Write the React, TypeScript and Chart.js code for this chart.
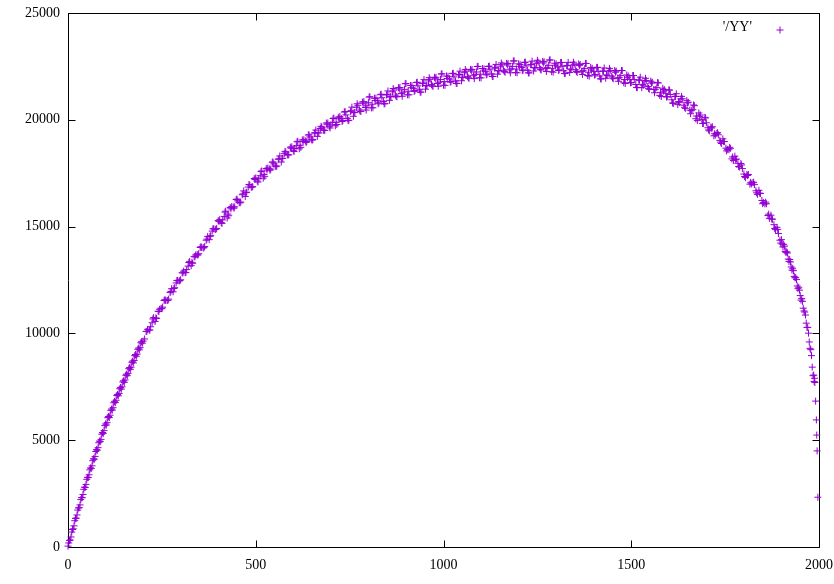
import React, { useEffect, useRef } from "react";
import { Chart, registerables } from "chart.js";

Chart.register(...registerables);

const seriesLabel = "'/YY'";
const xTickValues = [0, 500, 1000, 1500, 2000];
const yTickValues = [0, 5000, 10000, 15000, 20000, 25000];

const rampPoints: number[][] = [
  [0, 40], [4, 300], [8, 470], [12, 820], [16, 990], [20, 1340], [24, 1500], [28, 1830],
  [32, 1970], [36, 2310], [40, 2460], [44, 2800], [48, 2930], [52, 3260], [56, 3380],
  [60, 3700], [64, 3800], [68, 4130], [72, 4240], [76, 4560], [80, 4650], [84, 4960],
  [88, 5040], [92, 5360], [96, 5450], [100, 5760], [104, 5820], [108, 6110], [112, 6170],
  [116, 6460], [120, 6520], [124, 6820], [128, 6870], [132, 7140], [136, 7190], [140, 7470],
  [144, 7500], [148, 7780], [152, 7820], [156, 8090], [160, 8130], [164, 8400], [168, 8420],
  [172, 8700], [176, 8730], [180, 9010], [184, 9030], [188, 9310], [192, 9330], [196, 9610],
  [200, 9640],
];

const rampInterleaved: number[][] = [
  [2, 190], [6, 330], [10, 700], [14, 850], [18, 1230], [22, 1350], [26, 1730], [30, 1840],
  [34, 2220], [38, 2310], [42, 2700], [46, 2790], [50, 3170], [54, 3250], [58, 3610],
  [62, 3680], [66, 4040], [70, 4110], [74, 4470], [78, 4530], [82, 4880], [86, 4930],
  [90, 5280], [94, 5320], [98, 5680], [102, 5710], [106, 6050], [110, 6060], [114, 6400],
  [118, 6410], [122, 6750], [126, 6760], [130, 7090], [134, 7080], [138, 7410], [142, 7390],
  [146, 7730], [150, 7710], [154, 8040], [158, 8020], [162, 8350], [166, 8320], [170, 8650],
  [174, 8620], [178, 8960], [182, 8930], [186, 9260], [190, 9230], [194, 9560], [198, 9540],
];

const risePoints: number[][] = [
  [208, 10091], [216, 10152], [224, 10498], [232, 10560], [240, 11040], [248, 11175],
  [256, 11538], [264, 11537], [272, 11911], [280, 11945], [288, 12363], [296, 12451],
  [304, 12839], [312, 12852], [320, 13150], [328, 13172], [336, 13604], [344, 13691],
  [352, 14022], [360, 14005], [368, 14363], [376, 14389], [384, 14791], [392, 14863],
  [400, 15280], [408, 15188], [416, 15476], [424, 15404], [432, 15892], [440, 15920],
  [448, 16268], [456, 16130], [464, 16490], [472, 16410], [480, 16850], [488, 16850],
  [496, 17250], [504, 17134], [512, 17382], [520, 17270], [528, 17718], [536, 17706],
  [544, 18014], [552, 17838], [560, 18150], [568, 18022], [576, 18414], [584, 18366],
  [592, 18718], [600, 18570], [608, 18786], [616, 18642], [624, 19058], [632, 19014],
  [640, 19290], [648, 19086], [656, 19376], [664, 19224], [672, 19592], [680, 19520],
  [688, 19848], [696, 19676], [704, 19880], [712, 19720], [720, 20120],
];

const riseInterleaved: number[][] = [
  [204, 9738], [212, 10189], [220, 10310], [228, 10739], [236, 10695], [244, 11130],
  [252, 11229], [260, 11545], [268, 11604], [276, 12093], [284, 12139], [292, 12482],
  [300, 12510], [308, 12913], [316, 12986], [324, 13371], [332, 13283], [340, 13670],
  [348, 13729], [356, 14021], [364, 14064], [372, 14541], [380, 14575], [388, 14902],
  [396, 14914], [404, 15324], [412, 15312], [420, 15720], [428, 15508], [436, 15936],
  [444, 15924], [452, 16209], [460, 16150], [468, 16670], [476, 16610], [484, 16950],
  [492, 16870], [500, 17282], [508, 17238], [516, 17606], [524, 17354], [532, 17742],
  [540, 17690], [548, 17936], [556, 17834], [564, 18306], [572, 18198], [580, 18490],
  [588, 18362], [596, 18734], [604, 18658], [612, 18994], [620, 18710], [628, 19066],
  [636, 18982], [644, 19198], [652, 19071], [660, 19520], [668, 19388], [676, 19656],
  [684, 19504], [692, 19852], [700, 19758], [708, 20080], [716, 19780],
];

const riseThird: number[][] = [
  [210, 10095], [218, 10156], [226, 10678], [234, 10725], [242, 11025], [250, 11157],
  [258, 11579], [266, 11548], [274, 11965], [282, 12102], [290, 12475], [298, 12473],
  [306, 12831], [314, 12844], [322, 13320], [330, 13325], [338, 13577], [346, 13665],
  [354, 14059], [362, 14012], [370, 14415], [378, 14542], [386, 14899], [394, 14881],
  [402, 15242], [410, 15150], [418, 15678], [426, 15586], [434, 15834], [442, 15862],
  [450, 16288], [458, 16110], [466, 16530], [474, 16590], [482, 16970], [490, 16850],
  [498, 17206], [506, 17086], [514, 17574], [522, 17442], [530, 17650], [538, 17638],
  [546, 18025], [554, 17806], [562, 18178], [570, 18190], [578, 18522], [586, 18354],
  [594, 18666], [602, 18514], [610, 18970], [618, 18806], [626, 18982], [634, 18938],
  [642, 19294], [650, 19048], [658, 19398], [666, 19386], [674, 19694], [682, 19502],
  [690, 19790], [698, 19617], [706, 20060], [714, 19880],
];

const plateauPoints: number[][] = [
  [728, 20055], [736, 20360], [744, 20065], [752, 20393], [760, 20165], [768, 20587],
  [776, 20459], [784, 20831], [792, 20578], [800, 20800], [808, 20556], [816, 21012],
  [824, 20893], [832, 21174], [840, 20855], [848, 21161], [856, 20911], [864, 21309],
  [872, 21157], [880, 21505], [888, 21228], [896, 21426], [904, 21170], [912, 21610],
  [920, 21475], [928, 21740], [936, 21405], [944, 21695], [952, 21434], [960, 21819],
  [968, 21654], [976, 21989], [984, 21700], [992, 21885], [1000, 21620], [1008, 22050],
  [1016, 21906], [1024, 22161], [1032, 21817], [1040, 22097], [1048, 21827], [1056, 22205],
  [1064, 22033], [1072, 22360], [1080, 22062], [1088, 22239], [1096, 21966], [1104, 22402],
  [1112, 22250], [1120, 22497], [1128, 22145], [1136, 22417], [1144, 22139], [1152, 22511],
  [1160, 22327], [1168, 22643], [1176, 22334], [1184, 22500], [1192, 22216], [1200, 22620],
  [1208, 22453], [1216, 22686], [1224, 22319], [1232, 22577], [1240, 22285], [1248, 22643],
  [1256, 22440], [1264, 22735], [1272, 22405], [1280, 22550], [1288, 22250], [1296, 22650],
  [1304, 22469], [1312, 22681], [1320, 22293], [1328, 22530], [1336, 22217], [1344, 22555],
  [1352, 22339], [1360, 22617], [1368, 22270], [1376, 22397], [1384, 22075], [1392, 22452],
  [1400, 22255], [1408, 22453], [1416, 22051], [1424, 22273], [1432, 21946], [1440, 22269],
  [1448, 22042], [1456, 22310], [1464, 21951], [1472, 22068], [1480, 21734], [1488, 22100],
  [1496, 21892], [1504, 22076], [1512, 21653], [1520, 21855], [1528, 21507], [1536, 21809],
  [1544, 21561], [1552, 21809], [1560, 21420], [1568, 21506], [1576, 21142], [1584, 21478],
  [1592, 21239], [1600, 21400], [1608, 20937], [1616, 21099], [1624, 20711], [1632, 20973],
  [1640, 20685], [1648, 20897], [1656, 20454], [1664, 20476], [1672, 20048], [1680, 20320],
  [1688, 20017], [1696, 20114],
];

const plateauInterleaved: number[][] = [
  [724, 20160], [732, 19970], [740, 20230], [748, 19979], [756, 20594], [764, 20336],
  [772, 20678], [780, 20390], [788, 20852], [796, 20654], [804, 21078], [812, 20564],
  [820, 21010], [828, 20796], [836, 21032], [844, 20758], [852, 21351], [860, 21070],
  [868, 21388], [876, 21076], [884, 21514], [892, 21292], [900, 21698], [908, 21170],
  [916, 21600], [924, 21370], [932, 21590], [940, 21300], [948, 21880], [956, 21587],
  [964, 21892], [972, 21567], [980, 21992], [988, 21758], [996, 22153], [1004, 21615],
  [1012, 22036], [1020, 21796], [1028, 22007], [1036, 21707], [1044, 22277], [1052, 21976],
  [1060, 22274], [1068, 21942], [1076, 22359], [1084, 22116], [1092, 22503], [1100, 21964],
  [1108, 22384], [1116, 22136], [1124, 22339], [1132, 22031], [1140, 22593], [1148, 22285],
  [1156, 22574], [1164, 22230], [1172, 22636], [1180, 22382], [1188, 22758], [1196, 22198],
  [1204, 22594], [1212, 22332], [1220, 22520], [1228, 22198], [1236, 22746], [1244, 22424],
  [1252, 22697], [1260, 22332], [1268, 22718], [1276, 22442], [1284, 22800], [1292, 22230],
  [1300, 22617], [1308, 22338], [1316, 22505], [1324, 22162], [1332, 22689], [1340, 22346],
  [1348, 22602], [1356, 22223], [1364, 22591], [1372, 22299], [1380, 22636], [1388, 22044],
  [1396, 22411], [1404, 22117], [1412, 22270], [1420, 21912], [1428, 22425], [1436, 22068],
  [1444, 22311], [1452, 21921], [1460, 22278], [1468, 21975], [1476, 22301], [1484, 21697],
  [1492, 22054], [1500, 21747], [1508, 21882], [1516, 21504], [1524, 21996], [1532, 21618],
  [1540, 21840], [1548, 21430], [1556, 21762], [1564, 21428], [1572, 21724], [1580, 21090],
  [1588, 21416], [1596, 21082], [1604, 21186], [1612, 20768], [1620, 21220], [1628, 20802],
  [1636, 20984], [1644, 20536], [1652, 20823], [1660, 20430], [1668, 20662], [1676, 19964],
  [1684, 20226], [1692, 19828],
];

const plateauThird: number[][] = [
  [722, 20050], [730, 19920], [738, 20390], [746, 19960], [754, 20426], [762, 20348],
  [770, 20750], [778, 20402], [786, 20774], [794, 20456], [802, 21064], [810, 20730],
  [818, 20906], [826, 20752], [834, 21198], [842, 20744], [850, 21188], [858, 21088],
  [866, 21466], [874, 21094], [882, 21442], [890, 21100], [898, 21687], [906, 21340],
  [914, 21500], [922, 21330], [930, 21760], [938, 21290], [946, 21720], [954, 21608],
  [962, 21973], [970, 21588], [978, 21923], [986, 21569], [994, 22144], [1002, 21788],
  [1010, 21938], [1018, 21759], [1026, 22179], [1034, 21700], [1042, 22120], [1050, 21999],
  [1058, 22357], [1066, 21965], [1074, 22292], [1082, 21929], [1090, 22496], [1098, 22135],
  [1106, 22288], [1114, 22101], [1122, 22513], [1130, 22026], [1138, 22438], [1146, 22310],
  [1154, 22660], [1162, 22256], [1170, 22572], [1178, 22198], [1186, 22754], [1194, 22377],
  [1202, 22502], [1210, 22300], [1218, 22698], [1226, 22196], [1234, 22594], [1242, 22452],
  [1250, 22787], [1258, 22364], [1266, 22659], [1274, 22264], [1282, 22800], [1290, 22410],
  [1298, 22529], [1306, 22311], [1314, 22688], [1322, 22165], [1330, 22542], [1338, 22379],
  [1346, 22696], [1354, 22259], [1362, 22536], [1370, 22124], [1378, 22641], [1386, 22229],
  [1394, 22327], [1402, 22093], [1410, 22456], [1418, 21919], [1426, 22281], [1434, 22104],
  [1442, 22407], [1450, 21959], [1458, 22227], [1466, 21803], [1474, 22310], [1482, 21886],
  [1490, 21972], [1498, 21727], [1506, 22074], [1514, 21516], [1522, 21858], [1530, 21660],
  [1538, 21942], [1546, 21473], [1554, 21718], [1562, 21264], [1570, 21740], [1578, 21286],
  [1586, 21342], [1594, 21068], [1602, 21388], [1610, 20790], [1618, 21092], [1626, 20854],
  [1634, 21096], [1642, 20588], [1650, 20792], [1658, 20282], [1666, 20694], [1674, 20176],
  [1682, 20168], [1690, 19830], [1698, 20087],
];

const fallPoints: number[][] = [
  [1704, 19626], [1712, 19658], [1720, 19250], [1728, 19362], [1736, 19034], [1744, 19106],
  [1752, 18672], [1760, 18600], [1768, 18168], [1776, 18296], [1784, 17964], [1792, 17952],
  [1800, 17460], [1808, 17444], [1816, 16988], [1824, 17052], [1832, 16676], [1840, 16700],
  [1848, 16224], [1856, 16062], [1864, 15518], [1872, 15534], [1880, 15090], [1888, 14966],
  [1896, 14362], [1900, 14390], [1904, 14044], [1908, 14088], [1912, 13782], [1916, 13766],
  [1920, 13370], [1924, 13344], [1928, 12962], [1932, 12938], [1936, 12604], [1940, 12520],
  [1944, 12096], [1948, 12022], [1952, 11560], [1956, 11500], [1960, 11050], [1964, 10860],
  [1968, 10280], [1972, 10010], [1976, 9300], [1980, 8960], [1984, 8020],
];

const fallInterleaved: number[][] = [
  [1700, 19860], [1708, 19482], [1716, 19674], [1724, 19286], [1732, 19298], [1740, 18890],
  [1748, 18979], [1756, 18616], [1764, 18664], [1772, 18092], [1780, 18160], [1788, 17788],
  [1796, 17716], [1804, 17292], [1812, 17436], [1820, 17000], [1828, 16964], [1836, 16508],
  [1844, 16552], [1852, 16123], [1860, 16070], [1868, 15386], [1876, 15342], [1884, 14858],
  [1892, 14674], [1902, 14180], [1906, 14170], [1910, 13840], [1914, 13820], [1918, 13480],
  [1922, 13460], [1926, 13110], [1930, 13050], [1934, 12670], [1938, 12610], [1942, 12220],
  [1946, 12160], [1950, 11770], [1954, 11630], [1958, 11180], [1962, 11000], [1966, 10480],
  [1970, 10280], [1974, 9600], [1978, 9240], [1982, 8420],
];

const fallThird: number[][] = [
  [1706, 19524], [1714, 19616], [1722, 19348], [1730, 19400], [1738, 18952], [1746, 18983],
  [1754, 18544], [1762, 18712], [1770, 18260], [1778, 18148], [1786, 17816], [1794, 17884],
  [1802, 17346], [1810, 17390], [1818, 17074], [1826, 17078], [1834, 16582], [1842, 16566],
  [1850, 16074], [1858, 16146], [1866, 15582], [1874, 15358], [1882, 14914], [1890, 14870],
  [1898, 14226],
];

const tailPoints: number[][] = [
  [1986, 8050], [1987, 7750], [1988, 7900], [1989, 7700], [1991, 6830], [1993, 5950],
  [1994, 5240], [1995, 4500], [1997, 2330],
];

const POINT_COLOR = "#9400d3";
const FONT = '"Liberation Serif", "Times New Roman", serif';

const framePlugin = {
  id: "gnuplotFrame",
  beforeDatasetsDraw(chart: any) {
    const { ctx, chartArea, scales } = chart;
    const { left, right, top, bottom } = chartArea;
    const xs = scales.x;
    const ys = scales.y;
    const L = Math.round(left) + 0.5;
    const R = Math.round(right) + 0.5;
    const T = Math.round(top) + 0.5;
    const B = Math.round(bottom) + 0.5;
    ctx.save();
    ctx.strokeStyle = "#000";
    ctx.lineWidth = 1;
    ctx.beginPath();
    ctx.rect(L, T, R - L, B - T);
    const tl = 7;
    for (const v of yTickValues) {
      const py = Math.round(ys.getPixelForValue(v)) + 0.5;
      ctx.moveTo(L, py);
      ctx.lineTo(L + tl, py);
      ctx.moveTo(R, py);
      ctx.lineTo(R - tl, py);
    }
    for (const v of xTickValues) {
      const px = Math.round(xs.getPixelForValue(v)) + 0.5;
      ctx.moveTo(px, B);
      ctx.lineTo(px, B - tl);
      ctx.moveTo(px, T);
      ctx.lineTo(px, T + tl);
    }
    ctx.stroke();
    ctx.restore();
  },
  afterDraw(chart: any) {
    const { ctx } = chart;
    ctx.save();
    ctx.font = `14px ${FONT}`;
    ctx.fillStyle = "#000";
    ctx.textAlign = "right";
    ctx.textBaseline = "middle";
    ctx.fillText(seriesLabel, 752, 27);
    ctx.strokeStyle = POINT_COLOR;
    ctx.lineWidth = 1;
    ctx.beginPath();
    ctx.moveTo(776.5, 30);
    ctx.lineTo(783.5, 30);
    ctx.moveTo(780, 26.5);
    ctx.lineTo(780, 33.5);
    ctx.stroke();
    ctx.restore();
  },
};

export default function App() {
  const canvasRef = useRef<HTMLCanvasElement | null>(null);

  useEffect(() => {
    const canvas = canvasRef.current;
    if (!canvas) return;
    const all = [
      ...rampPoints, ...rampInterleaved,
      ...risePoints, ...riseInterleaved, ...riseThird,
      ...plateauPoints, ...plateauInterleaved, ...plateauThird,
      ...fallPoints, ...fallInterleaved, ...fallThird,
      ...tailPoints,
    ];
    const data = all.map(([x, y]) => ({ x, y }));
    const chart = new Chart(canvas, {
      type: "scatter",
      data: {
        datasets: [
          {
            label: seriesLabel,
            data,
            pointStyle: "cross",
            pointRadius: 3.5,
            pointHoverRadius: 3.5,
            borderWidth: 1,
            borderColor: POINT_COLOR,
            backgroundColor: POINT_COLOR,
            clip: false,
          } as any,
        ],
      },
      options: {
        animation: false,
        responsive: false,
        devicePixelRatio: 1,
        events: [],
        layout: { padding: { top: 13, right: 15, left: 0, bottom: 0 } },
        plugins: {
          legend: { display: false },
          tooltip: { enabled: false },
        },
        scales: {
          x: {
            type: "linear",
            min: 0,
            max: 2000,
            ticks: {
              stepSize: 500,
              padding: 10,
              color: "#000",
              maxRotation: 0,
              font: { family: FONT, size: 14 },
              callback: (v: any) => String(v),
            },
            grid: { display: false, drawTicks: false },
            border: { display: false },
            afterFit: (s: any) => {
              s.height = 37;
              s.paddingLeft = 0;
              s.paddingRight = 0;
            },
          },
          y: {
            type: "linear",
            min: 0,
            max: 25000,
            ticks: {
              stepSize: 5000,
              padding: 8,
              color: "#000",
              font: { family: FONT, size: 14 },
              callback: (v: any) => String(v),
            },
            grid: { display: false, drawTicks: false },
            border: { display: false },
            afterFit: (s: any) => {
              s.width = 68;
              s.paddingTop = 0;
              s.paddingBottom = 0;
            },
          },
        },
      },
      plugins: [framePlugin],
    });
    return () => chart.destroy();
  }, []);

  return (
    <div style={{ position: "fixed", left: 0, top: 0, width: 834, height: 584, background: "#fff" }}>
      <canvas ref={canvasRef} width={834} height={584} style={{ width: 834, height: 584 }} />
    </div>
  );
}
